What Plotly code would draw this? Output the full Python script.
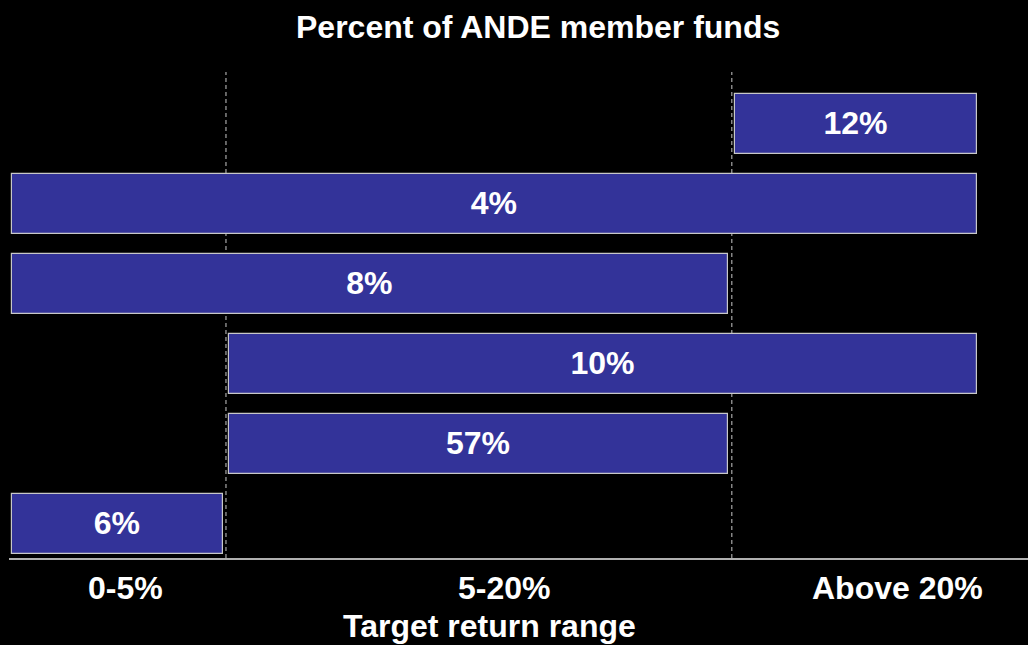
import plotly.graph_objects as go

# ---------------- data ----------------
categories = ["0-5%", "5-20%", "Above 20%"]           # target return ranges (x bands)
bar_labels = ["6%", "57%", "10%", "8%", "4%", "12%"]   # percent of member funds, bottom to top
start_band = [0, 1, 1, 0, 0, 2]                        # first band covered by each fund group
end_band = [1, 2, 3, 2, 3, 3]                          # band boundary where it stops
chart_title = "Percent of ANDE member funds"
axis_title = "Target return range"

# ---------------- layout constants ----------------
EDGES = [0.0, 1.0, 3.364, 4.509]   # band boundaries on the x axis
GAP = 0.016
TICK_POS = [0.53, 2.30, 4.14]
FONT = "Liberation Sans, Arial, Helvetica, sans-serif"
FS = 32

rows = list(range(len(bar_labels)))
bases, lengths = [], []
for s, e in zip(start_band, end_band):
    x0 = EDGES[s] + (GAP if s > 0 else 0)
    x1 = EDGES[e] - (GAP if e < 3 else 0)
    bases.append(x0)
    lengths.append(x1 - x0)

fig = go.Figure()
fig.add_trace(go.Bar(
    y=rows, x=lengths, base=bases, orientation="h", width=0.75,
    marker=dict(color="#333399", line=dict(color="#c8c8c8", width=1.2)),
    text=bar_labels, textposition="inside", insidetextanchor="middle",
    textangle=0, constraintext="none",
    textfont=dict(family=FONT, size=FS, color="white", weight="bold"),
    hoverinfo="skip", showlegend=False,
))

for xe in EDGES[1:3]:
    fig.add_shape(type="line", xref="x", yref="paper", x0=xe, x1=xe, y0=0, y1=1,
                  line=dict(color="#c8c8c8", width=1, dash="4px,3px"), layer="below")

annotations = []
for cat, xp in zip(categories, TICK_POS):
    annotations.append(dict(text=cat, x=xp, xref="x", y=588, yref="paper", showarrow=False,
                            font=dict(family=FONT, size=FS, color="white", weight="bold"),
                            xanchor="center", yanchor="middle"))

fig.update_layout(
    width=1028, height=645,
    paper_bgcolor="black", plot_bgcolor="black",
    margin=dict(l=9, r=0, t=72, b=87.3),
    bargap=0,
    xaxis=dict(range=[-0.014, 4.748], showgrid=False, zeroline=False, showticklabels=False,
               ticks="", showline=True, linecolor="#b0b0b0", linewidth=1.5, fixedrange=True),
    yaxis=dict(range=[-0.422, 5.647], showgrid=False, zeroline=False, showticklabels=False,
               ticks="", showline=False, fixedrange=True),
    font=dict(family=FONT, color="white"),
)

# convert pixel y positions to paper coordinates
plot_top, plot_bottom = 72, 645 - 87.3
def py(ypix):
    return (plot_bottom - ypix) / (plot_bottom - plot_top)

for a in annotations:
    a["y"] = py(a["y"])
annotations.append(dict(text=chart_title, x=(538 - 9) / 1019, xref="paper", y=py(27), yref="paper",
                        showarrow=False, xanchor="center", yanchor="middle",
                        font=dict(family=FONT, size=FS, color="white", weight="bold")))
annotations.append(dict(text=axis_title, x=(489 - 9) / 1019, xref="paper", y=py(626), yref="paper",
                        showarrow=False, xanchor="center", yanchor="middle",
                        font=dict(family=FONT, size=FS, color="white", weight="bold")))
fig.update_layout(annotations=annotations)

fig.write_html(
    "out.html",
    config={"displayModeBar": False},
    post_script="document.body.style.margin='0';document.body.style.background='black';document.body.style.overflow='hidden';",
)
